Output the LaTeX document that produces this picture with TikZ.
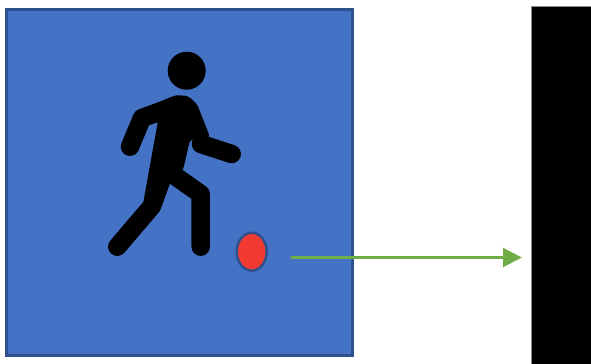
\documentclass[tikz,border=0pt]{standalone}
\usepackage{xcolor}
\usetikzlibrary{arrows.meta, calc, shapes.geometric}
\definecolor{pitchblue}{HTML}{4472C4}
\definecolor{pitchedge}{HTML}{2F528F}
\definecolor{ballred}{HTML}{F23A33}
\definecolor{kickgreen}{HTML}{70AD47}
\tikzset{
  limb/.style={black, line width=0.37cm, line cap=round, line join=round},
  kickarrow/.style={kickgreen, line width=0.075cm, -{Triangle[length=0.38cm, width=0.37cm]}, shorten >=0.18cm}
}

\begin{document}
\begin{tikzpicture}[x=0.02cm, y=-0.02cm]
  \useasboundingbox (0,0) rectangle (591,363);
  \node[draw=pitchedge, fill=pitchblue, line width=0.06cm, inner sep=0pt, minimum width=6.92cm, minimum height=6.92cm] (pitch) at (179.5,182.5) {};
  \node[draw=black!45, fill=black, line width=0.01cm, inner sep=0pt, minimum width=1.4cm, minimum height=7.4cm, anchor=north west] (wall) at (531,5.5) {};
  % player
  \fill[black] (186.7,70.7) circle [radius=0.38cm];
  \fill[black, rounded corners=0.06cm] (158,121) -- (143,204) -- (160,210) -- (166,182) -- (183,170) -- (190,140) -- (210,137) -- (197,104) -- (188,96) -- (176,95) -- (140,110) -- cycle;
  \draw[limb] (130,146.7) -- (142,118) -- (178,105);
  \draw[limb] (201,144) -- (231.7,154);
  \draw[limb] (165,170) -- (152,206) -- (117.3,246.7);
  \draw[limb] (175,176) -- (200.7,194) -- (200.7,246.7);
  % ball and arrow
  \node[draw=pitchedge, fill=ballred, line width=0.05cm, ellipse, inner sep=0pt, minimum width=0.6cm, minimum height=0.76cm] (ball) at (251.7,251.7) {};
  \coordinate (kick) at (291,257.5);
  \draw[kickarrow] (kick) -- (kick -| wall.west);
\end{tikzpicture}
\end{document}
